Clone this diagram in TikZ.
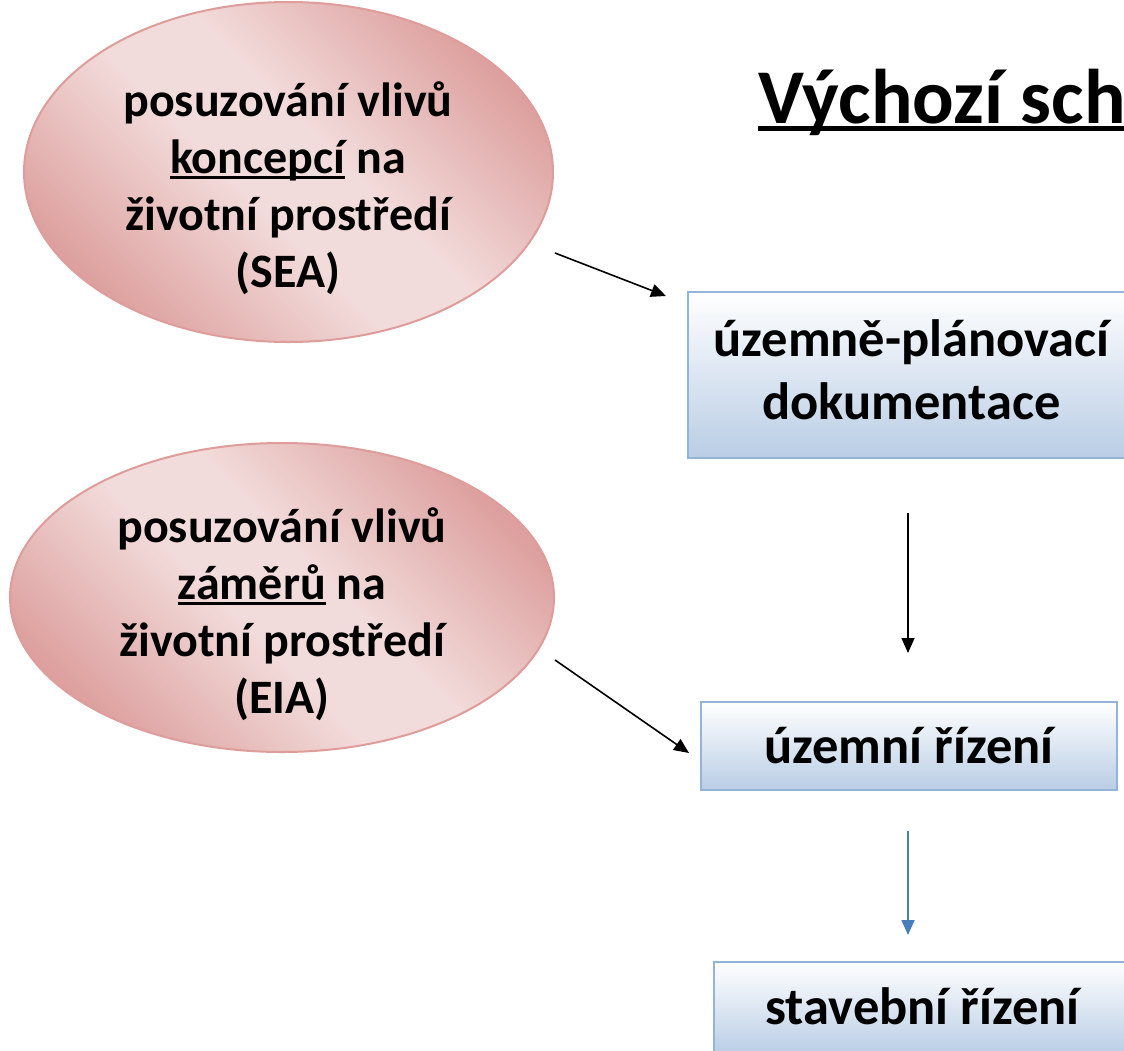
\documentclass[tikz,border=0pt]{standalone}
\usepackage{fontspec}
\setmainfont{Carlito}
\usetikzlibrary{arrows.meta,shapes.geometric}
\definecolor{pinkD}{HTML}{D99694}
\definecolor{pinkL}{HTML}{F2DCDB}
\definecolor{pinkE}{HTML}{DE9D9B}
\definecolor{boxB}{HTML}{B9CDE5}
\definecolor{boxE}{HTML}{95B3D7}
\definecolor{arrB}{HTML}{4A7EBB}
\pgfdeclarehorizontalshading{pinkband}{100bp}{color(0bp)=(pinkD); color(25bp)=(pinkD!85!pinkL); color(45bp)=(pinkL); color(55bp)=(pinkL); color(75bp)=(pinkD!85!pinkL); color(100bp)=(pinkD)}
\newcommand\myul[1]{\setbox0\hbox{#1}\rlap{\rule[-0.11em]{\wd0}{0.055em}}\box0\relax}
\tikzset{
  bubble/.style={ellipse, draw=pinkE, line width=2pt, shading=pinkband, shading angle=45, inner sep=0pt},
  bubbletext/.style={align=center, font=\fontsize{48}{57}\selectfont\bfseries},
  stepbox/.style={rectangle, draw=boxE, line width=2pt, top color=white, bottom color=boxB, inner sep=0pt},
  boxtext/.style={align=center, font=\fontsize{52.5}{63}\selectfont\bfseries},
  arr/.style={line width=1.6pt, -{Triangle[length=15pt,width=13pt]}},
}
\begin{document}
\begin{tikzpicture}[x=1pt,y=-1pt]
\useasboundingbox (0,0) rectangle (1124,1050);
\clip (0,0) rectangle (1124,1050);
\fill[white] (0,0) rectangle (1124,1050);
% ellipses
\node[bubble, minimum width=529pt, minimum height=340pt] (sea) at (288.5,172) {};
\node[bubbletext] (seat) at (288,188) {posuzování vlivů\\\myul{koncepcí} na\\životní prostředí\\(SEA)};
\node[bubble, minimum width=544pt, minimum height=309pt] (eia) at (282,597.5) {};
\node[bubbletext] (eiat) at (282,614) {posuzování vlivů\\\myul{záměrů} na\\životní prostředí\\(EIA)};
% boxes
\node[stepbox, minimum width=447pt, minimum height=166pt] (upd) at (911.5,375) {};
\node[boxtext] (updt) at (911.5,370) {územně-plánovací\\dokumentace};
\node[stepbox, minimum width=416pt, minimum height=88pt] (ur) at (909,746) {};
\node[boxtext] (urt) at (909,746) {územní řízení};
\node[stepbox, minimum width=417pt, minimum height=92pt] (sr) at (922.5,1008) {};
\node[boxtext] (srt) at (922.5,1006) {stavební řízení};
% title
\node[anchor=base west, inner sep=0pt, font=\fontsize{77.5}{93}\selectfont\bfseries] (title) at (758,123) {\setbox0\hbox{Výchozí schéma}\rlap{\rule[-0.1em]{\wd0}{0.06em}}\box0\relax};
% connectors
\coordinate (a1s) at (555,253);
\coordinate (a1e) at (666,296);
\coordinate (a2s) at (555,660);
\coordinate (a2e) at (689,753);
\coordinate (a3s) at (908,513);
\coordinate (a3e) at (908,653);
\coordinate (a4s) at (908,831);
\coordinate (a4e) at (908,935);
\draw[arr] (a1s) -- (a1e);
\draw[arr] (a2s) -- (a2e);
\draw[arr] (a3s) -- (a3e);
\draw[arr, draw=arrB, fill=arrB] (a4s) -- (a4e);
\end{tikzpicture}
\end{document}
